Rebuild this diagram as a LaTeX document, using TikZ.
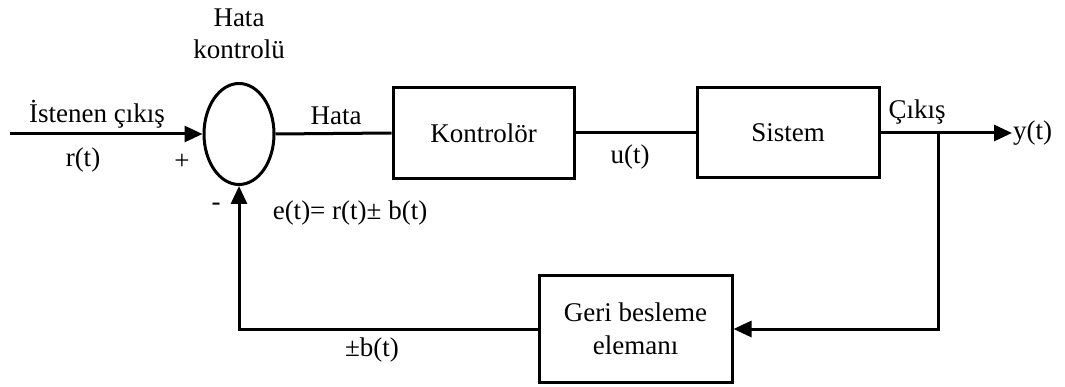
\documentclass[tikz,border=0pt]{standalone}
\usepackage{fontspec}
\setmainfont{Liberation Serif}
\usetikzlibrary{shapes.geometric,arrows.meta}
\begin{document}
\begin{tikzpicture}[x=1pt,y=-1pt,
  every node/.style={font=\fontsize{27}{33}\selectfont, inner sep=0pt},
  blk/.style={draw, line width=3pt, align=center},
  wire/.style={line width=3pt},
  arr/.style={wire, -{Triangle[length=18pt,width=16pt]}}]
\useasboundingbox (0,0) rectangle (1065,387);
\node[draw, ellipse, line width=3pt, minimum width=70pt, minimum height=101pt] (sum) at (239,134) {};
\node[blk, minimum width=181pt, minimum height=91pt] (ctrl) at (483.5,133) {Kontrolör};
\node[blk, minimum width=182pt, minimum height=90pt] (sys) at (788,133) {Sistem};
\node[blk, minimum width=193pt, minimum height=106pt] (fb) at (635.5,329) {Geri besleme\\elemanı};
\coordinate (in) at (10,134);
\coordinate (br) at (938,133);
\coordinate (out) at (1012,133);
\draw[arr] (in) -- (sum.west);
\draw[wire] (sum.east) -- (ctrl.west);
\draw[wire] (ctrl.east) -- (sys.west);
\draw[arr] (sys.east) -- (out);
\draw[arr] (br) |- (fb.east);
\draw[arr] (fb.west) -| (sum.south);
\node[align=center, font=\fontsize{27}{32}\selectfont] (hk) at (239,34) {Hata\\kontrolü};
\node (ist) at (97,114) {İstenen çıkış};
\node (rt) at (83,160) {r(t)};
\node (plus) at (182,162) {+};
\node (minus) at (216,207) {-};
\node (hata) at (336,116) {Hata};
\node (ut) at (630,157) {u(t)};
\node (cik) at (917,112) {Çıkış};
\node[anchor=west] (yt) at (1013,133) {y(t)};
\node (et) at (350,213) {e(t)= r(t)± b(t)};
\node (bt) at (372,350) {±b(t)};
\end{tikzpicture}
\end{document}
